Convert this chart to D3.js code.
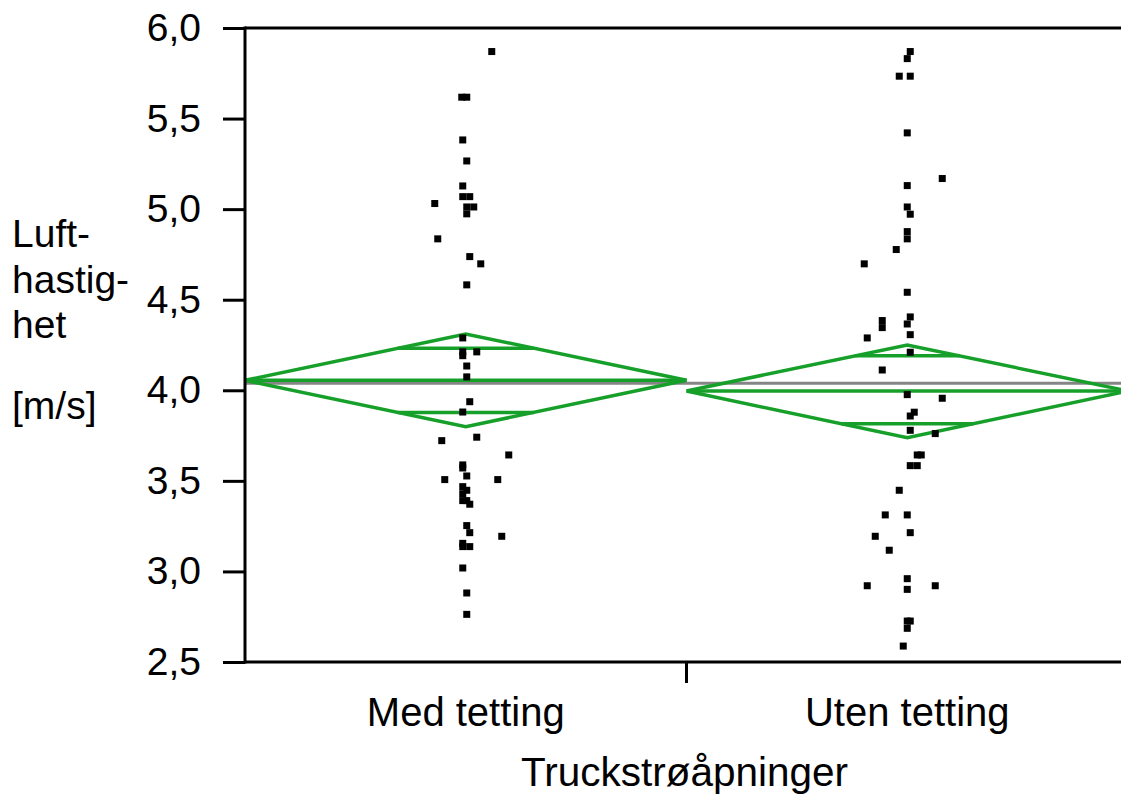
<!DOCTYPE html>
<html>
<head>
<meta charset="utf-8">
<script src="https://cdn.jsdelivr.net/npm/d3@7/dist/d3.min.js"></script>
<style>
  html, body { margin: 0; padding: 0; background: #fff; }
  svg { display: block; font-family: "Liberation Sans", Arial, sans-serif; }
</style>
</head>
<body>
<svg id="chart" width="1121" height="794"></svg>
<script>
// Group names
const categories = ["Med tetting", "Uten tetting"];

// Individual measurements (m/s) and their horizontal jitter (jitter units)
const medValues = [5.870, 5.618, 5.618, 5.382, 5.266, 5.128, 5.069, 5.069, 5.031, 5.012,
  5.012, 4.974, 4.836, 4.738, 4.698, 4.582, 4.289, 4.212, 4.191, 4.212,
  4.134, 4.074, 3.937, 3.880, 3.722, 3.741, 3.643, 3.588, 3.571, 3.527,
  3.507, 3.507, 3.468, 3.448, 3.429, 3.391, 3.391, 3.371, 3.253, 3.214,
  3.194, 3.155, 3.137, 3.137, 3.019, 2.881, 2.763];
const medJitter = [26, -4, 1, -3, 1, -3, -3, 4, -31, 1,
  8, 1, -28, 4, 15, 1, -3, -3, -3, 11,
  1, 1, 4, -3, -24, 11, 43, -3, -3, 1,
  -21, 32, -3, 1, -3, -3, 1, 4, 1, 4,
  36, -3, -3, 4, -3, 1, 1];

const utenValues = [5.870, 5.831, 5.734, 5.734, 5.421, 5.169, 5.130, 5.012, 4.972, 4.876,
  4.836, 4.777, 4.698, 4.541, 4.405, 4.385, 4.346, 4.366, 4.289, 4.307,
  4.210, 4.112, 3.976, 3.956, 3.879, 3.858, 3.779, 3.761, 3.643, 3.643,
  3.584, 3.584, 3.448, 3.312, 3.312, 3.214, 3.194, 3.117, 2.960, 2.921,
  2.921, 2.901, 2.726, 2.726, 2.686, 2.588];
const utenJitter = [3, 0, -8, 3, 0, 35, 0, 0, 3, 0,
  0, -11, -43, 0, 3, -25, -25, 0, -40, 3,
  3, -25, 0, 35, 7, 3, 3, 28, 10, 14,
  3, 10, -8, -22, 0, 3, -32, -18, 0, -40,
  28, 0, 3, 0, 0, -4];

// Means diamonds: group mean, 95% CI bounds, overlap marks
const groupMeans = [4.055, 3.996];
const ciUpper = [4.311, 4.250];
const ciLower = [3.799, 3.738];
const overlapUpper = [4.232, 4.190];
const overlapLower = [3.878, 3.815];
const grandMean = 4.039;

// Axis ticks and titles
const yTicks = [2.5, 3.0, 3.5, 4.0, 4.5, 5.0, 5.5, 6.0];
const yLabelLines = ["Luft-", "hastig-", "het", "[m/s]"];
const xTitle = "Truckstrøåpninger";

(function draw() {
  const groups = [medValues, utenValues];
  const jitters = [medJitter, utenJitter];

  const svg = d3.select("#chart");
  const pLeft = 245, pRight = 1128, pTop = 28, pBottom = 662;
  const green = "#16a02a";
  const font = "'Liberation Sans', Arial, sans-serif";

  const y = d3.scaleLinear().domain([2.5, 6.0]).range([pBottom, pTop]);
  const x = d3.scaleBand().domain(categories).range([pLeft, pRight]).paddingInner(0).paddingOuter(0);
  const jit = d3.scaleLinear().domain([-1, 1]).range([-1, 1]);

  const locale = d3.formatLocale({ decimal: ",", thousands: " ", grouping: [3], currency: ["", ""] });
  const fmt = locale.format(".1f");

  // Grand mean reference line
  svg.append("line")
    .attr("x1", pLeft).attr("x2", pRight)
    .attr("y1", y(grandMean)).attr("y2", y(grandMean))
    .attr("stroke", "#858585").attr("stroke-width", 3);

  // Means diamonds
  categories.forEach((c, i) => {
    const x0 = x(c), x1 = x(c) + x.bandwidth(), xc = x0 + x.bandwidth() / 2;
    const m = groupMeans[i];
    const g = svg.append("g").attr("fill", "none").attr("stroke", green).attr("stroke-width", 3.5);
    g.append("path")
      .attr("d", d3.line()([[x0, y(m)], [xc, y(ciUpper[i])], [x1, y(m)], [xc, y(ciLower[i])], [x0, y(m)]]));
    g.append("line").attr("x1", x0).attr("x2", x1).attr("y1", y(m)).attr("y2", y(m));
    // overlap marks span the diamond at their height
    const half = x.bandwidth() / 2;
    [overlapUpper[i], overlapLower[i]].forEach(v => {
      const frac = 1 - Math.abs(v - m) / (v > m ? ciUpper[i] - m : m - ciLower[i]);
      const w = half * frac;
      g.append("line").attr("x1", xc - w).attr("x2", xc + w).attr("y1", y(v)).attr("y2", y(v));
    });
  });

  // Data points
  const size = 7;
  categories.forEach((c, i) => {
    const xc = x(c) + x.bandwidth() / 2;
    svg.append("g").selectAll("rect")
      .data(groups[i].map((v, k) => ({ v, j: jitters[i][k] })))
      .join("rect")
      .attr("x", d => xc + jit(d.j) - size / 2)
      .attr("y", d => y(d.v) - size / 2)
      .attr("width", size).attr("height", size)
      .attr("fill", "#000");
  });

  // Frame border lines
  svg.append("line").attr("x1", pLeft).attr("x2", pRight).attr("y1", pTop).attr("y2", pTop)
    .attr("stroke", "#000").attr("stroke-width", 3);
  svg.append("line").attr("x1", pLeft).attr("x2", pRight).attr("y1", pBottom).attr("y2", pBottom)
    .attr("stroke", "#000").attr("stroke-width", 3);
  svg.append("line").attr("x1", pRight).attr("x2", pRight).attr("y1", pTop).attr("y2", pBottom)
    .attr("stroke", "#000").attr("stroke-width", 3);

  // Y axis
  const yAxis = svg.append("g")
    .attr("transform", `translate(${pLeft},0)`)
    .call(d3.axisLeft(y).tickValues(yTicks).tickFormat(fmt).tickSize(22).tickPadding(22));
  yAxis.select(".domain").attr("stroke", "#000").attr("stroke-width", 3)
    .attr("d", `M0,${pTop - 1.5}V${pBottom + 1.5}`);
  yAxis.selectAll(".tick line").attr("stroke", "#000").attr("stroke-width", 3);
  yAxis.selectAll(".tick text").attr("fill", "#000").style("font-size", "39px").style("font-family", font);

  // X axis: labels at group centres, tick at group boundary
  const xAxis = svg.append("g")
    .attr("transform", `translate(0,${pBottom})`)
    .call(d3.axisBottom(x).tickSize(0).tickPadding(36));
  xAxis.select(".domain").remove();
  xAxis.selectAll(".tick text").attr("fill", "#000").style("font-size", "40px").style("font-family", font);
  svg.append("line")
    .attr("x1", x(categories[1])).attr("x2", x(categories[1]))
    .attr("y1", pBottom).attr("y2", pBottom + 21)
    .attr("stroke", "#000").attr("stroke-width", 3);

  // Axis titles
  svg.append("text")
    .attr("x", (pLeft + pRight) / 2 - 2).attr("y", 786)
    .attr("text-anchor", "middle")
    .style("font-size", "40.5px").style("font-family", font)
    .text(xTitle);

  // Y title: three word lines, then the unit after a blank gap
  const yl = svg.append("text").style("font-size", "39px").style("font-family", font);
  const lineH = 45.5, unitGap = 81;
  yLabelLines.forEach((t, k) => {
    const baseline = k < 3 ? 247 + k * lineH : 247 + 2 * lineH + unitGap;
    yl.append("tspan").attr("x", 12).attr("y", baseline).text(t);
  });
})();
</script>
</body>
</html>
